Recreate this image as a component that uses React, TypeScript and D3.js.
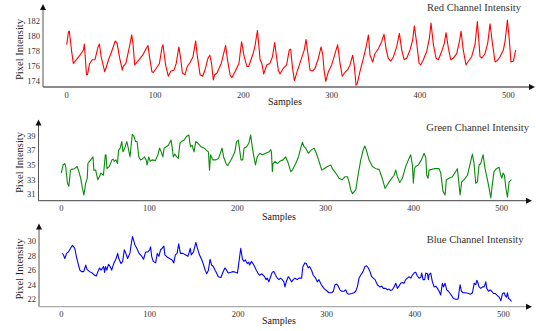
import React from 'react';
import * as d3 from 'd3';

// [sample, pixel intensity]
const redSeries: [number, number][] = [
  [0, 178.8], [2, 180.5], [3, 180.6], [5.6, 177.9], [7.5, 176.3], [11, 176.8], [15, 177.4], [19, 178.1], [20, 178.9],
  [22.4, 174.8], [23.5, 174.8], [26, 176.3], [29, 176.8], [32, 176.8], [35.5, 178.5], [37, 178.9], [39, 177.2],
  [43, 175.2], [45, 175.9], [48, 177], [50, 177.6], [55, 179.3], [57, 179], [60, 177], [63, 175.4], [64, 175.9],
  [67, 176.3], [71, 178.5], [73.6, 180.1], [75, 179], [77, 176.1], [78.5, 176.3], [82, 176.8], [86, 177.4],
  [90, 178.3], [92, 178.7], [94, 177], [96.5, 175.2], [98, 175.1], [101, 175.6], [105, 176.3], [108, 178.5],
  [109, 178.8], [112, 176.1], [115, 174.6], [118, 175.3], [121.5, 175.4], [124, 176.3], [127, 178.5], [129, 177],
  [131, 175], [134, 174.8], [136.5, 175.9], [140, 176.5], [143, 177.2], [146, 179.3], [148, 177.2], [151, 174.8],
  [154, 174.6], [157, 175.6], [160, 177], [162, 177.4], [164, 176.3], [166, 174.1], [167.5, 174.8], [170, 175],
  [175, 176.3], [180, 178.7], [182, 176.8], [185, 174.8], [187, 174.4], [191, 175.3], [195, 176.3], [198, 179.2],
  [201, 177.2], [204, 175.9], [206, 175.9], [211, 177.6], [213, 178.5], [216, 180.7], [219, 176.8], [221, 176.3],
  [223, 174.9], [226.5, 176.1], [230, 176.3], [233, 177.2], [235.5, 179.1], [237.8, 177], [239.6, 175.4],
  [241.5, 174.9], [245, 175.6], [249, 176.1], [252, 178.1], [253.6, 178.2], [255.5, 175.9], [257.8, 174],
  [260.4, 175], [264, 176.3], [269, 178.1], [271, 179.5], [273.6, 177.2], [275.5, 175.4], [278.5, 175.3],
  [281, 175.6], [285, 177], [288, 178.5], [290, 177.4], [291.4, 175.4], [293.3, 173.9], [296.3, 175.2],
  [300, 176.1], [303.8, 177.6], [306.8, 178.8], [309.5, 176.3], [312, 174.6], [315, 175.1], [317.8, 175.4],
  [320.8, 176.1], [323.8, 177.4], [325.7, 175.9], [327.6, 173.4], [329, 173.6], [332, 175.2], [336, 177],
  [339, 178.5], [341.6, 180.1], [343.4, 177.4], [346.5, 176.5], [349, 177.6], [353, 178.3], [356.6, 179.2],
  [359.3, 180.2], [361.5, 178.3], [364, 177], [366.8, 176.6], [370, 177.2], [373.6, 178.5], [376.7, 180.3],
  [379.3, 178.1], [382, 176.8], [385, 177], [388.7, 178.1], [391.7, 179.4], [393.6, 181.3], [396.3, 179],
  [399, 176.3], [400.8, 176.1], [403.8, 176.8], [407.6, 177.9], [410.6, 179.6], [412.5, 181.7], [415.2, 178.8],
  [418.2, 177], [420.8, 176.8], [424.6, 177.9], [427.6, 179], [429.5, 180.4], [432.2, 178.3], [434.8, 176.8],
  [437.8, 177], [441.6, 177.6], [444.6, 179.2], [446.5, 180.6], [449, 178.1], [452.1, 176.1], [454.8, 176.6],
  [458.5, 177.2], [462.3, 178.8], [465, 181.9], [468, 177.2], [470, 177], [473.6, 177.6], [476.7, 179],
  [479.3, 181.6], [482, 179], [485, 176.5], [487.6, 176.7], [490.6, 177.2], [494.4, 178.1], [496.3, 179.2],
  [499, 182.1], [501.2, 179.4], [503, 176.5], [505.7, 176.6], [508.4, 178.1],
];

const greenSeries: [number, number][] = [
  [0, 33.9], [2, 35], [4, 35.2], [5, 34.8], [7, 32.5], [8.6, 32.1], [10.4, 34.3], [11.6, 34.4], [15, 34.5],
  [18, 34.8], [20, 34.1], [22, 33.2], [24, 31.8], [25.7, 30.9], [27.6, 32.5], [29.5, 33.2], [30.2, 35.2],
  [32, 35.5], [36, 36.1], [37, 34.3], [39, 34.3], [41.4, 33], [43.3, 33.4], [45, 33.9], [47.8, 33.6], [50, 36.4],
  [50.7, 36.4], [51.9, 34.5], [54.5, 34.8], [57.5, 35.7], [59, 35.8], [60, 35.5], [62, 35.7], [63.8, 35.2],
  [65, 37], [66.8, 37.3], [68.7, 38.2], [70, 36.8], [72, 37.3], [74.3, 38.2], [75.7, 37.5], [78, 36.1],
  [80.6, 39.2], [82.5, 38.9], [84.3, 38.2], [86, 38.2], [88, 36.1], [90, 35.7], [91.8, 35.8], [94.4, 36.1],
  [96.3, 35.7], [97.4, 35], [99.3, 36.1], [101, 35.5], [103, 35.7], [106.7, 35.6], [109.7, 36.4], [111.6, 37.3],
  [113.4, 36.8], [115.3, 36.1], [116.8, 37.3], [119, 37.5], [121.6, 37.7], [124.6, 38.4], [126, 37.3],
  [127.2, 36.1], [129, 36.5], [131, 36.1], [132.8, 35.9], [134.7, 38], [136.6, 38.2], [139.6, 38.4], [142, 38.9],
  [144.8, 39.1], [146.6, 37.5], [148.5, 37.7], [150.7, 36.8], [152.6, 38.2], [155, 38], [158.6, 37.5],
  [162.3, 37.3], [165, 37], [167, 36.8], [168.3, 34.3], [169.4, 36.4], [172, 35.7], [175.7, 35.7], [178.4, 35.9],
  [180.6, 36.6], [182.5, 37.3], [184.3, 36.1], [187, 35.2], [188.8, 34.9], [191.8, 35.5], [194.4, 36.1],
  [197, 36.8], [199, 38.2], [201, 38.4], [202, 37.5], [204, 35.7], [206, 35.7], [207.5, 37.3], [210.4, 37.5],
  [213, 38], [215, 39.1], [216.8, 37.5], [218.7, 36.1], [220.5, 35], [222.4, 36.1], [225.4, 36.6], [228.3, 36.4],
  [232, 36.6], [236, 36.8], [237.7, 37.1], [238.6, 36.8], [239.6, 34.1], [240.4, 35.2], [242.7, 35.5],
  [245.3, 35.2], [248, 35.5], [251.8, 35.7], [254.8, 36.1], [257.8, 35.2], [260.5, 34.1], [262.3, 34.3],
  [266.1, 35.2], [269.2, 36.1], [271.8, 37.3], [273.7, 38.1], [275.6, 37.5], [277.5, 37.3], [280.5, 36.6],
  [283.2, 37], [287, 37.3], [289.6, 36.6], [292.6, 35.5], [295.7, 34.3], [298.3, 34.5], [302.1, 34.8],
  [305.9, 35], [307.8, 34.5], [311.6, 33.9], [315.3, 33.2], [319.1, 33], [322.2, 33.4], [324.8, 33.4],
  [326.7, 32.7], [328.6, 31.6], [330.5, 31.1], [334.3, 31.6], [337.3, 33.9], [340, 35.7], [342.6, 37],
  [344.5, 37.6], [346.4, 37], [349.4, 35.7], [353.2, 34.8], [357, 34.5], [360.8, 34.4], [363.8, 33.4],
  [367.6, 31.8], [370.2, 32.3], [374, 33], [377.8, 33.6], [379.7, 34.3], [381.6, 33.4], [384.2, 32.6],
  [387.3, 33.2], [391, 34.8], [394.8, 35.9], [396.7, 36.4], [398.6, 35], [399.7, 32.5], [400.9, 34.5],
  [402.4, 34.8], [405.4, 35], [408.8, 35.7], [411.9, 36.6], [413.8, 36], [414.9, 33.6], [416.4, 33.2],
  [417.5, 34.3], [423.2, 34.5], [428.9, 34.5], [430.8, 33.9], [433.4, 31.4], [435.7, 30.9], [437.2, 33],
  [440.2, 33.2], [444, 33.4], [447.8, 34.1], [449.7, 34.5], [451.6, 32.3], [452.7, 30.9], [454.6, 32.7],
  [457.3, 33], [461.1, 33.6], [464.8, 35.5], [466.7, 36.5], [468.6, 35.2], [470.5, 32.5], [472.4, 32.7],
  [474.3, 35], [476.2, 35.2], [478.9, 36.4], [481.1, 34.5], [483.8, 33], [485.7, 31.8], [487.6, 30.5],
  [489.5, 32.5], [491.3, 34.1], [494, 34.5], [497, 34.7], [499, 33.6], [500.1, 33.2], [501.6, 33.9],
  [503.1, 33.6], [504.6, 32], [506.5, 30.6], [508.4, 32.7], [511, 33],
];

const blueSeries: [number, number][] = [
  [0.7, 28.3], [2, 28.2], [4, 27.6], [6, 28.3], [8, 28.5], [10.4, 29], [12.7, 29.4], [15.3, 29], [17, 27.9],
  [19, 26.9], [21, 26], [22.8, 25.8], [25.4, 25.8], [27.6, 26.7], [29, 26.1], [32, 25.8], [35, 25.6],
  [37.7, 25.3], [39.6, 25.2], [41.4, 25.8], [43.3, 26.3], [45, 26], [47.8, 26.5], [49, 25.7], [50, 26.5],
  [51.5, 26], [53.4, 26.8], [55.2, 26.5], [57, 26], [59.3, 26.9], [62, 27.6], [63.8, 28.3], [65, 27.6],
  [67.5, 26.9], [69.4, 27.2], [71.3, 28.8], [73, 28.3], [75, 27.6], [77.6, 28.3], [79.5, 29.9], [80.6, 30.6],
  [83.2, 29.5], [85.4, 29], [88, 28.3], [91, 27.9], [93, 27.5], [95.5, 28.5], [98, 28.5], [100, 28.8],
  [101, 29.2], [102.2, 27.9], [104, 27.2], [106.7, 27], [108.6, 28.3], [110.4, 27.9], [112.3, 28.8], [114, 29],
  [116, 29.3], [117.2, 28.1], [119.8, 27.8], [122.4, 27.6], [125.4, 27.4], [127.2, 27], [129, 28.1],
  [131, 28.3], [132.8, 29.6], [134.7, 28.3], [137.7, 28.3], [140.3, 28.1], [143.3, 27.9], [145.9, 29],
  [147, 28.1], [149.6, 28.5], [152.2, 29.8], [154, 29], [156.3, 28.1], [159, 27.4], [160.8, 26.8], [162.7, 26],
  [164.5, 25.5], [166.4, 26], [168.3, 27.5], [170, 26.7], [172, 26.5], [173.9, 26], [175.7, 25.6], [177.6, 25.1],
  [180.6, 25], [182.5, 25.6], [185, 26.3], [187, 26], [188.8, 25.6], [191.8, 25.7], [194.4, 25.8], [197, 25.7],
  [199.3, 25.6], [200.7, 26.9], [203, 29], [204.9, 27.5], [206.7, 27.2], [208.2, 27.4], [210.4, 26.9],
  [212, 27.1], [213, 26.7], [215, 27.2], [216.8, 26.9], [218.7, 26.5], [220.5, 26], [222.4, 25.6], [224.3, 25.3],
  [226.9, 25.5], [229.9, 25.1], [231.7, 24.7], [233, 24.9], [234.8, 24.4], [236.7, 25.1], [238.6, 25.7],
  [240.5, 25.8], [242.4, 25.3], [244.3, 24.9], [246.2, 24.7], [248, 24.9], [250, 24.7], [251.8, 24.4],
  [253, 23.7], [254.5, 24.4], [256.7, 25.1], [258.2, 24.9], [260.5, 24.4], [262.4, 24.7], [264.3, 24.9],
  [266.9, 24.7], [268.8, 24.9], [271.8, 24.9], [273.3, 26.5], [275.6, 27], [277.1, 26.9], [279.4, 26.3],
  [280.9, 26.5], [283.1, 26], [285, 25.3], [287.7, 24.9], [289.6, 24.4], [291.5, 24.7], [293.3, 24.2],
  [295.2, 23.8], [297.1, 23.5], [299, 23.3], [300.9, 23.1], [302.8, 22.9], [305.8, 22.9], [307.7, 23.1],
  [309.6, 24], [311.5, 24.1], [313.3, 23.8], [315.2, 23.3], [317.1, 23.1], [319.8, 23.1], [321.7, 23.3],
  [323.5, 22.8], [325.4, 22.7], [328.4, 22.8], [331.1, 22.9], [333, 23.1], [334.9, 23.7], [336.8, 24.9],
  [338.6, 25.3], [341.3, 25.8], [343.5, 26.5], [345.4, 26.6], [347.3, 26.3], [349.2, 25.8], [351.1, 25.1],
  [353, 24.9], [354.9, 24.7], [357.5, 24], [360.2, 23.7], [362.4, 23.8], [364.3, 23.5], [367, 23.5],
  [368.8, 23.3], [370.7, 23.4], [372.6, 23.2], [374.5, 23.3], [376.4, 23.7], [378.3, 24.2], [380.2, 23.5],
  [382, 23.8], [383.9, 24.2], [385.8, 24.3], [387.7, 24.2], [389.6, 24.7], [391.5, 24.9], [393.4, 25.1],
  [395.3, 24.9], [397.1, 25.3], [399, 25.6], [400.9, 25.7], [402.8, 25.2], [404.7, 24.9], [406.6, 25],
  [407.7, 25.6], [409.2, 24.7], [411.1, 24.7], [412.3, 25.6], [414.1, 25.5], [415.3, 24.7], [416, 25.4],
  [417.9, 25.6], [419.8, 24.4], [421.7, 23.7], [423.6, 23.8], [425.5, 23.5], [427.4, 23.1], [429.2, 22.6],
  [431.1, 24.2], [432.3, 23.7], [434.1, 24.2], [436, 23.3], [437.9, 23.1], [439.8, 22.8], [441.7, 22.5],
  [443.6, 22.1], [446.2, 22], [448.9, 22], [450, 23.1], [451.1, 24], [452.6, 23.1], [454.5, 22.9],
  [457.5, 22.9], [460.6, 22.8], [463.2, 22.7], [465.1, 22.9], [467, 24.2], [468.9, 24], [470, 24.6],
  [471.5, 24.2], [472.6, 23.7], [474.5, 23.5], [476.4, 23.7], [478.3, 23.7], [480.2, 24.4], [481.3, 23.5],
  [483.2, 23.1], [485.1, 23.3], [487, 23.1], [488.9, 22.8], [490.8, 22.8], [493.4, 22.5], [495.3, 22.3],
  [497.2, 21.8], [499.1, 22.8], [501, 22.9], [502.1, 22.5], [503.6, 22.3], [504.7, 22.9], [505.9, 22.1],
  [507.4, 22], [509.3, 21.7],
];

const xTicks = [0, 100, 200, 300, 400, 500];
const redTicks = [174, 176, 178, 180, 182];
const greenTicks = [31, 33, 35, 37, 39];
const blueTicks = [22, 24, 26, 28, 30];

const titles = ['Red Channel Intensity', 'Green Channel Intensity', 'Blue Channel Intensity'];

const FONT = '"Liberation Serif", "DejaVu Serif", serif';

interface PanelProps {
  data: [number, number][];
  color: string;
  title: string;
  ticks: number[];
  yAxisX: number;
  x0: number; x500: number;
  yLo: [number, number]; yHi: [number, number];
  axisY: number; arrowTop: number; axisEnd: number;
  xAxisColor: string;
  titleX: number; titleY: number;
  samplesX: number; samplesY: number;
  labelY: number;
}

const Panel: React.FC<PanelProps> = (p) => {
  const x = d3.scaleLinear().domain([0, 500]).range([p.x0, p.x500]);
  const y = d3.scaleLinear().domain([p.yLo[0], p.yHi[0]]).range([p.yLo[1], p.yHi[1]]);
  const line = d3.line<[number, number]>().x(d => x(d[0])).y(d => y(d[1]));
  return (
    <g fontFamily={FONT}>
      {/* y axis with arrow */}
      <line x1={p.yAxisX} x2={p.yAxisX} y1={p.axisY} y2={p.arrowTop + 5} stroke="#555" strokeWidth={1} />
      <path d={`M${p.yAxisX - 3},${p.arrowTop + 6} L${p.yAxisX},${p.arrowTop} L${p.yAxisX + 3},${p.arrowTop + 6} Z`} fill="#111" />
      {/* x axis with arrow */}
      <line x1={p.yAxisX} x2={p.axisEnd - 5} y1={p.axisY} y2={p.axisY} stroke={p.xAxisColor} strokeWidth={1.3} />
      <path d={`M${p.axisEnd - 6},${p.axisY - 3} L${p.axisEnd},${p.axisY} L${p.axisEnd - 6},${p.axisY + 3} Z`} fill="#111" />
      {xTicks.map(t => (
        <text key={t} x={x(t)} y={p.axisY + 10.5} fontSize={8.5} fill="#333" textAnchor="middle">{t}</text>
      ))}
      {p.ticks.map(t => (
        <text key={t} x={p.yAxisX - 3} y={y(t) + 3} fontSize={8.5} fill="#333" textAnchor="end">{t}</text>
      ))}
      <path d={line(p.data) || ''} fill="none" stroke={p.color} strokeWidth={1.1} strokeLinejoin="round" />
      <text x={p.titleX} y={p.titleY} fontSize={10.5} fill="#333" textAnchor="end">{p.title}</text>
      <text x={p.samplesX} y={p.samplesY} fontSize={10} fill="#222" textAnchor="middle">Samples</text>
      <text transform={`translate(23,${p.labelY}) rotate(-90)`} fontSize={10.5} fill="#222" textAnchor="middle">Pixel Intensity</text>
    </g>
  );
};

const App: React.FC = () => {
  return (
    <div style={{ position: 'fixed', left: 0, top: 0, width: 536, height: 331, background: '#fff' }}>
      <svg width={536} height={331} style={{ display: 'block' }}>
        <Panel data={redSeries} color="#ff0000" title={titles[0]} ticks={redTicks}
          yAxisX={43} x0={66.7} x500={508.3} yLo={[174, 80.7]} yHi={[182, 20.7]}
          axisY={87} arrowTop={4} axisEnd={535} xAxisColor="#666"
          titleX={521} titleY={11} samplesX={285} samplesY={104.5} labelY={49.5} />
        <Panel data={greenSeries} color="#0a8a0a" title={titles[1]} ticks={greenTicks}
          yAxisX={38.5} x0={61.3} x500={501.7} yLo={[31, 194.3]} yHi={[39, 135.7]}
          axisY={200.7} arrowTop={119.5} axisEnd={532} xAxisColor="#666"
          titleX={529} titleY={130.5} samplesX={279} samplesY={219.5} labelY={162.5} />
        <Panel data={blueSeries} color="#0000ff" title={titles[2]} ticks={blueTicks}
          yAxisX={39} x0={61.3} x500={503.3} yLo={[22, 299.3]} yHi={[30, 241]}
          axisY={306.7} arrowTop={223.5} axisEnd={532} xAxisColor="#aaa"
          titleX={523.5} titleY={242.5} samplesX={279} samplesY={323.5} labelY={269} />
      </svg>
    </div>
  );
};

export default App;
